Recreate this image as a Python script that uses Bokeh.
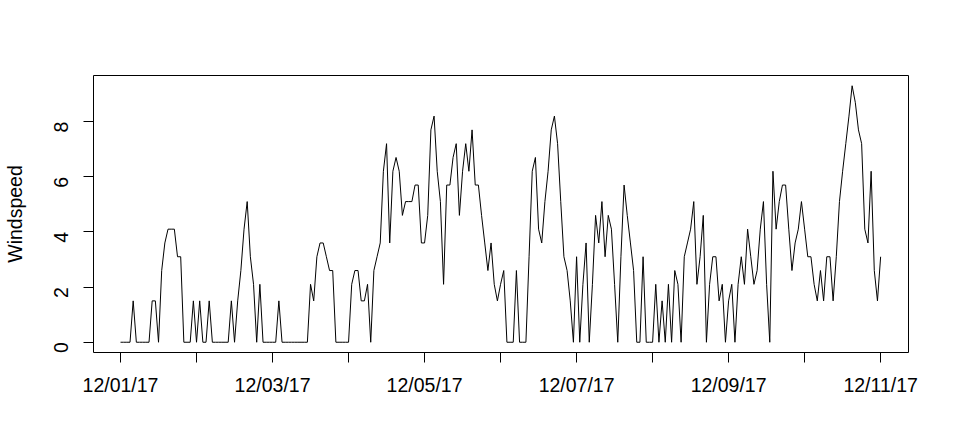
import math
import pandas as pd
from bokeh.plotting import figure
from bokeh.models import FixedTicker, Range1d
from bokeh.embed import file_html
from bokeh.resources import INLINE

# Hourly wind speed, 12/01/17 00:00 .. 12/11/17 00:00
windspeed = [
    0, 0, 0, 0, 1.5, 0, 0, 0, 0, 0, 1.5, 1.5, 0, 2.6, 3.6, 4.1, 4.1, 4.1, 3.1, 3.1, 0, 0, 0, 1.5,
    0, 1.5, 0, 0, 1.5, 0, 0, 0, 0, 0, 0, 1.5, 0, 1.5, 2.6, 4.1, 5.1, 3.1, 2.1, 0, 2.1, 0, 0, 0,
    0, 0, 1.5, 0, 0, 0, 0, 0, 0, 0, 0, 0, 2.1, 1.5, 3.1, 3.6, 3.6, 3.1, 2.6, 2.6, 0, 0, 0, 0,
    0, 2.1, 2.6, 2.6, 1.5, 1.5, 2.1, 0, 2.6, 3.1, 3.6, 6.2, 7.2, 3.6, 6.2, 6.7, 6.2, 4.6, 5.1, 5.1, 5.1, 5.7, 5.7, 3.6,
    3.6, 4.6, 7.7, 8.2, 6.2, 5.1, 2.1, 5.7, 5.7, 6.7, 7.2, 4.6, 6.2, 7.2, 6.2, 7.7, 5.7, 5.7, 4.6, 3.6, 2.6, 3.6, 2.1, 1.5,
    2.1, 2.6, 0, 0, 0, 2.6, 0, 0, 0, 3.1, 6.2, 6.7, 4.1, 3.6, 5.1, 6.2, 7.7, 8.2, 7.2, 5.1, 3.1, 2.6, 1.5, 0,
    3.1, 0, 2.1, 3.6, 0, 2.1, 4.6, 3.6, 5.1, 3.1, 4.6, 4.1, 2.1, 0, 3.1, 5.7, 4.6, 3.6, 2.6, 0, 0, 3.1, 0, 0,
    0, 2.1, 0, 1.5, 0, 2.1, 0, 2.6, 2.1, 0, 3.1, 3.6, 4.1, 5.1, 2.1, 3.1, 4.6, 0, 2.1, 3.1, 3.1, 1.5, 2.1, 0,
    1.5, 2.1, 0, 2.1, 3.1, 2.1, 4.1, 3.1, 2.1, 2.6, 4.1, 5.1, 2.1, 0, 6.2, 4.1, 5.1, 5.7, 5.7, 4.1, 2.6, 3.6, 4.1, 5.1,
    4.1, 3.1, 3.1, 2.1, 1.5, 2.6, 1.5, 3.1, 3.1, 1.5, 3.1, 5.1, 6.2, 7.2, 8.2, 9.3, 8.7, 7.7, 7.2, 4.1, 3.6, 6.2, 2.6, 1.5,
    3.1,
]
start = pd.Timestamp("2017-12-01 00:00")
times = pd.date_range(start, periods=len(windspeed), freq="h")
hours = [(t - start).total_seconds() / 3600.0 for t in times]

tick_dates = ["12/01/17", "12/02/17", "12/03/17", "12/04/17", "12/05/17", "12/06/17",
              "12/07/17", "12/08/17", "12/09/17", "12/10/17", "12/11/17"]
shown_labels = ["12/01/17", "12/03/17", "12/05/17", "12/07/17", "12/09/17", "12/11/17"]
y_ticks = [0, 2, 4, 6, 8]

tick_hours = [int((pd.to_datetime(d, format="%m/%d/%y") - start).total_seconds() // 3600) for d in tick_dates]
overrides = {h: (d if d in shown_labels else "") for h, d in zip(tick_hours, tick_dates)}

FONT_SIZE = "19.5px"

p = figure(width=941, height=426, output_backend="svg", toolbar_location=None,
           x_range=Range1d(-8.53, 248.8), y_range=Range1d(-0.372, 9.672),
           min_border_left=93, min_border_right=33, min_border_top=75, min_border_bottom=74)

p.line(hours, windspeed, line_color="black", line_width=1)

p.grid.visible = False
p.outline_line_color = "black"
p.outline_line_width = 1
p.background_fill_color = "white"
p.border_fill_color = "white"

for ax in (p.xaxis[0], p.yaxis[0]):
    ax.axis_line_color = None
    ax.major_tick_out = 10
    ax.major_tick_in = 0
    ax.major_tick_line_color = "black"
    ax.minor_tick_line_color = None
    ax.major_label_text_font = "Liberation Sans"
    ax.major_label_text_font_size = FONT_SIZE
    ax.major_label_text_color = "black"

p.xaxis.ticker = FixedTicker(ticks=tick_hours)
p.xaxis.major_label_overrides = overrides
p.xaxis.major_label_standoff = 11

p.yaxis.ticker = FixedTicker(ticks=y_ticks)
p.yaxis.major_label_orientation = math.pi / 2
p.yaxis.major_label_standoff = 22
p.yaxis.axis_label = "Windspeed"
p.yaxis.axis_label_text_font = "Liberation Sans"
p.yaxis.axis_label_text_font_size = FONT_SIZE
p.yaxis.axis_label_text_font_style = "normal"
p.yaxis.axis_label_text_color = "black"
p.yaxis.axis_label_standoff = 19

open("out.html", "w").write(file_html(p, INLINE))
